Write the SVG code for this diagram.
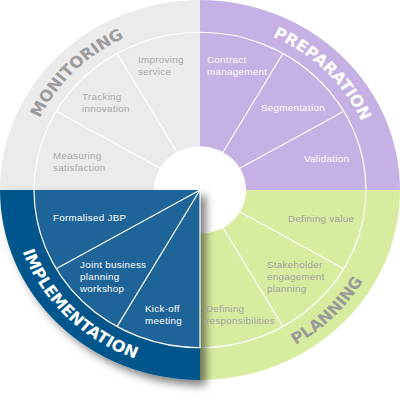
<svg xmlns="http://www.w3.org/2000/svg" width="400" height="400" viewBox="0 0 400 400">
  <style>
    .lbl { font-family: "Liberation Sans", Arial, sans-serif; font-size: 9.8px; letter-spacing: 0.3px; }
    .ttl { font-family: "DejaVu Sans", "Open Sans", sans-serif; font-size: 16.5px; font-weight: bold; }
    .div { stroke: #ffffff; stroke-width: 1.2; fill: none; }
    .gtxt { fill: #a8a8a8; }
    .wtxt { fill: #ffffff; }
    .ntxt { fill: #a0a2a0; }
  </style>
  <defs>
    <filter id="shadow" x="-20%" y="-20%" width="150%" height="150%">
      <feDropShadow dx="6" dy="6" stdDeviation="4.5" flood-color="#000000" flood-opacity="0.5"/>
    </filter>
    <path id="arcTL" d="M -177 0 A 177 177 0 0 1 0 -177"/>
    <path id="arcTR" d="M 0 -177 A 177 177 0 0 1 177 0"/>
    <path id="arcBR" d="M 0 189 A 189 189 0 0 0 189 0"/>
    <path id="arcBL" d="M -189 0 A 189 189 0 0 0 0 189"/>
  </defs>
  <rect width="400" height="400" fill="#ffffff"/>
  <g transform="translate(200,190) scale(1,0.95)">
    <g id="monitoring">
      <path d="M 0 0 L -200 0 A 200 200 0 0 1 0 -200 Z" fill="#ebebeb"/>
      <path class="div" d="M -166 0 A 166 166 0 0 1 0 -166"/>
      <path class="div" d="M -39.8 -23 L -143.8 -83 M -23 -39.8 L -83 -143.8"/>
      <text class="ttl" fill="#9b9b9b"><textPath href="#arcTL" startOffset="50%" text-anchor="middle">MONITORING</textPath></text>
    </g>
    <g id="preparation">
      <path d="M 0 0 L 0 -200 A 200 200 0 0 1 200 0 Z" fill="#c6b1e4"/>
      <path class="div" d="M 0 -166 A 166 166 0 0 1 166 0"/>
      <path class="div" d="M 23 -39.8 L 83 -143.8 M 39.8 -23 L 143.8 -83"/>
      <text class="ttl" fill="#ffffff"><textPath href="#arcTR" startOffset="50%" text-anchor="middle">PREPARATION</textPath></text>
    </g>
    <g id="planning">
      <path d="M 0 0 L 200 0 A 200 200 0 0 1 0 200 Z" fill="#d8ec9f"/>
      <path class="div" d="M 166 0 A 166 166 0 0 1 0 166"/>
      <path class="div" d="M 39.8 23 L 143.8 83 M 23 39.8 L 83 143.8"/>
      <text class="ttl" fill="#9a9a9a"><textPath href="#arcBR" startOffset="50%" text-anchor="middle">PLANNING</textPath></text>
    </g>
    <ellipse cx="0" cy="0" rx="46" ry="46" fill="#ffffff"/>
    <g id="implementation">
      <g filter="url(#shadow)">
        <path d="M 0 0 L -200 0 A 200 200 0 0 0 0 200 Z" fill="#03578c"/>
      </g>
      <path d="M 0 0 L -166 0 A 166 166 0 0 0 0 166 Z" fill="#1e6499"/>
      <path class="div" d="M -166 0 A 166 166 0 0 0 0 166 L 0 0"/>
      <path class="div" d="M 0 0 L -143.8 83 M 0 0 L -83 143.8"/>
      <text class="ttl" fill="#ffffff"><textPath href="#arcBL" startOffset="50%" text-anchor="middle">IMPLEMENTATION</textPath></text>
    </g>
  </g>
  <g id="labels-monitoring" class="lbl gtxt">
    <text x="138" y="63">Improving</text>
    <text x="138" y="75">service</text>
    <text x="82" y="99.5">Tracking</text>
    <text x="82" y="111.5">innovation</text>
    <text x="53" y="159">Measuring</text>
    <text x="53" y="171">satisfaction</text>
  </g>
  <g id="labels-preparation" class="lbl wtxt">
    <text x="207" y="62.5">Contract</text>
    <text x="207" y="74.5">management</text>
    <text x="261" y="111">Segmentation</text>
    <text x="304" y="162">Validation</text>
  </g>
  <g id="labels-planning" class="lbl ntxt">
    <text x="288" y="222">Defining value</text>
    <text x="267" y="267.5">Stakeholder</text>
    <text x="267" y="279.5">engagement</text>
    <text x="267" y="291.5">planning</text>
    <text x="206" y="311.5">Defining</text>
    <text x="206" y="323.5">responsibilities</text>
  </g>
  <g id="labels-implementation" class="lbl wtxt">
    <text x="53" y="221">Formalised JBP</text>
    <text x="80" y="267.5">Joint business</text>
    <text x="80" y="279.5">planning</text>
    <text x="80" y="291.5">workshop</text>
    <text x="145" y="311.5">Kick-off</text>
    <text x="145" y="323.5">meeting</text>
  </g>
</svg>
